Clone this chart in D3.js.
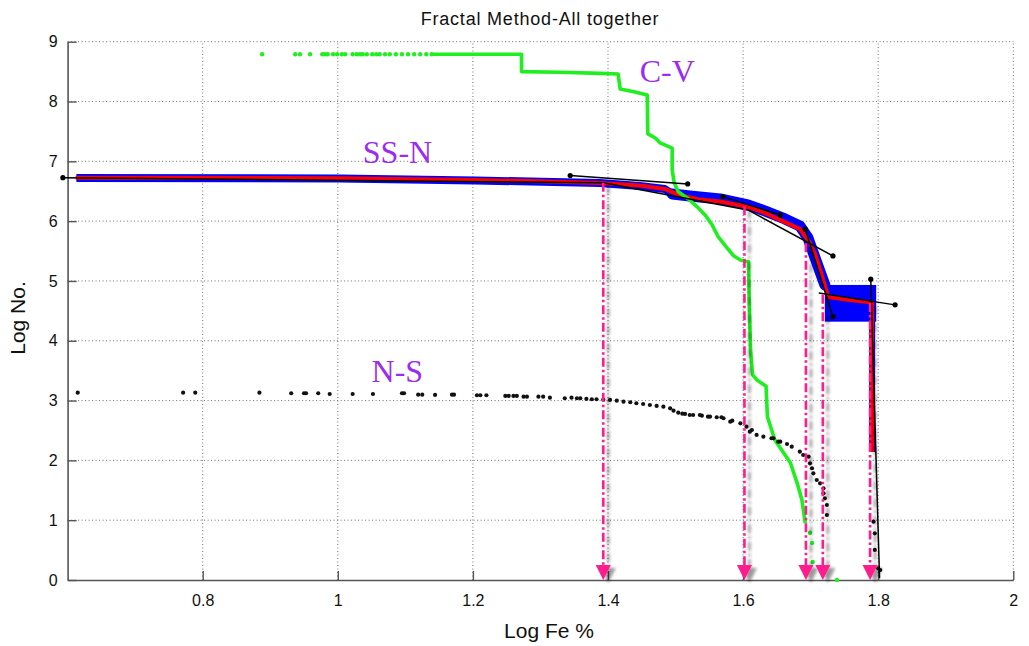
<!DOCTYPE html>
<html>
<head>
<meta charset="utf-8">
<script src="https://cdn.jsdelivr.net/npm/d3@7"></script>
<style>
  body { margin: 0; background: #fff; }
  svg { display: block; }
</style>
</head>
<body>
<svg id="chart" width="1029" height="646"></svg>
<script>
// ---- axis ticks ----
const xTicks = [0.8, 1, 1.2, 1.4, 1.6, 1.8, 2];
const yTicks = [0, 1, 2, 3, 4, 5, 6, 7, 8, 9];

// ---- C-V (concentration–volume) curve ----
const cvDotX = [0.888, 0.937, 0.944, 0.959, 0.977, 0.981, 0.985, 0.993, 0.999, 1.006, 1.011, 1.022, 1.028,
                1.033, 1.037, 1.043, 1.051, 1.057, 1.062, 1.070, 1.077, 1.086, 1.095, 1.104, 1.113, 1.122,
                1.131, 1.139];
const cvDotY = [8.79, 8.79, 8.79, 8.79, 8.79, 8.79, 8.79, 8.79, 8.79, 8.79, 8.79, 8.79, 8.79,
                8.79, 8.79, 8.79, 8.79, 8.79, 8.79, 8.79, 8.79, 8.79, 8.79, 8.79, 8.79, 8.79,
                8.79, 8.79];
const cvX = [1.141, 1.272, 1.272, 1.329, 1.388, 1.415, 1.418, 1.440, 1.458, 1.459, 1.470, 1.477, 1.495,
             1.495, 1.498, 1.504, 1.519, 1.532, 1.544, 1.554, 1.563, 1.575, 1.586, 1.596, 1.603, 1.608,
             1.609, 1.611, 1.614, 1.621, 1.634, 1.636, 1.647, 1.670, 1.680, 1.687, 1.692];
const cvY = [8.79, 8.79, 8.50, 8.49, 8.47, 8.46, 8.21, 8.16, 8.11, 7.46, 7.39, 7.31, 7.22,
             6.86, 6.64, 6.49, 6.37, 6.24, 6.10, 5.94, 5.74, 5.57, 5.42, 5.35, 5.33, 5.32,
             4.68, 3.85, 3.43, 3.34, 3.24, 2.73, 2.34, 1.96, 1.62, 1.34, 0.95];
const cvTailX = [1.699, 1.702, 1.703, 1.739];
const cvTailY = [0.79, 0.62, 0.30, 0.0];

// ---- N-S (number–size) points ----
const nsX = [0.615, 0.771, 0.789, 0.884, 0.931, 0.950, 0.953, 0.971, 0.988, 1.022, 1.052, 1.095, 1.098,
             1.119, 1.125, 1.144, 1.169, 1.172, 1.206, 1.211, 1.220, 1.248, 1.253, 1.260, 1.265, 1.275,
             1.280, 1.297, 1.304, 1.314, 1.336, 1.346, 1.354, 1.359, 1.368, 1.376, 1.383, 1.393, 1.403,
             1.413, 1.423, 1.433, 1.442, 1.452, 1.462, 1.472, 1.482, 1.492, 1.497, 1.504, 1.510, 1.514,
             1.521, 1.526, 1.536, 1.539, 1.548, 1.551, 1.561, 1.568, 1.571, 1.581, 1.584, 1.596, 1.605,
             1.610, 1.613, 1.620, 1.630, 1.642, 1.645, 1.652, 1.655, 1.665, 1.672, 1.684, 1.689, 1.697,
             1.699, 1.702, 1.704, 1.709, 1.714, 1.719, 1.719, 1.721, 1.724, 1.724, 1.793, 1.795, 1.795,
             1.800, 1.803];
const nsY = [3.132, 3.132, 3.132, 3.132, 3.122, 3.122, 3.122, 3.122, 3.110, 3.110, 3.110, 3.122, 3.122,
             3.099, 3.099, 3.094, 3.099, 3.099, 3.089, 3.089, 3.089, 3.077, 3.077, 3.077, 3.077, 3.065,
             3.065, 3.065, 3.065, 3.049, 3.039, 3.049, 3.039, 3.039, 3.027, 3.022, 3.022, 3.015, 3.010,
             2.998, 2.982, 2.972, 2.955, 2.943, 2.926, 2.910, 2.898, 2.871, 2.831, 2.798, 2.781, 2.776,
             2.759, 2.759, 2.759, 2.747, 2.731, 2.731, 2.721, 2.721, 2.704, 2.647, 2.664, 2.620, 2.564,
             2.480, 2.508, 2.425, 2.396, 2.370, 2.370, 2.313, 2.313, 2.274, 2.229, 2.145, 2.090, 2.062,
             1.951, 1.868, 1.784, 1.672, 1.617, 1.533, 1.450, 1.366, 1.254, 1.087, 0.975, 0.781, 0.502,
             0.196, 0.167];

// ---- SS-N (spectrum–area) data band and its smoothed trace ----
const bandX = [0.613, 1.003, 1.203, 1.388, 1.447, 1.484, 1.495, 1.521, 1.566, 1.607, 1.632, 1.662,
               1.684, 1.696, 1.705, 1.714, 1.721];
const bandY = [6.722, 6.714, 6.680, 6.639, 6.589, 6.538, 6.455, 6.421, 6.371, 6.271, 6.171, 6.037,
               5.920, 5.719, 5.435, 5.151, 4.933];
const bandBlockX = [1.721, 1.797];
const bandBlockY = [4.319, 4.933];
const bandTailX = [1.791, 1.791];
const bandTailY = [4.64, 2.14];

const ssnX = [0.612, 1.003, 1.203, 1.299, 1.388, 1.447, 1.484, 1.505, 1.535, 1.566, 1.607, 1.632, 1.662,
              1.684, 1.699, 1.707, 1.714, 1.723, 1.726, 1.758, 1.791, 1.791];
const ssnY = [6.727, 6.717, 6.689, 6.667, 6.639, 6.597, 6.538, 6.438, 6.363, 6.329, 6.237, 6.137, 5.983,
              5.870, 5.635, 5.435, 5.184, 4.849, 4.732, 4.682, 4.640, 2.140];

// ---- fitted straight segments (start / end) ----
const fitX1 = [0.593, 1.393, 1.344, 1.570, 1.607, 1.692, 1.712, 1.789];
const fitY1 = [6.727, 6.640, 6.761, 6.410, 6.187, 5.865, 4.800, 5.030];
const fitX2 = [1.393, 1.607, 1.518, 1.655, 1.733, 1.733, 1.825, 1.802];
const fitY2 = [6.640, 6.187, 6.622, 6.104, 5.418, 4.403, 4.600, 0.030];
const fitDotStart = [true, false, true, true, false, true, false, true];
const fitDotEnd = [false, false, true, true, true, true, true, false];

// ---- thresholds (break points) ----
const breakX = [1.393, 1.602, 1.693, 1.718, 1.788];
const breakTop = [6.64, 6.25, 5.63, 4.77, 4.63];

// ---- curve names ----
const curveNames = ["C-V", "SS-N", "N-S"];
const curveNameX = [1.447, 1.037, 1.050];
const curveNameY = [8.33, 6.97, 3.31];

// ================= drawing =================
const W = 1029, H = 646;
const svg = d3.select("#chart");
svg.append("rect").attr("width", W).attr("height", H).attr("fill", "#fff");

const x = d3.scaleLinear().domain([0.6, 2]).range([67.6, 1013.3]);
const y = d3.scaleLinear().domain([0, 9]).range([580, 41.7]);
const pts = (xs, ys) => xs.map((v, i) => [v, ys[i]]);
const line = d3.line().x(d => x(d[0])).y(d => y(d[1]));

const defs = svg.append("defs");
const f = defs.append("filter").attr("id", "dropShadow")
  .attr("filterUnits", "userSpaceOnUse").attr("x", 0).attr("y", 0).attr("width", W).attr("height", H);
f.append("feGaussianBlur").attr("in", "SourceAlpha").attr("stdDeviation", 1.6).attr("result", "b");
f.append("feOffset").attr("in", "b").attr("dx", 5).attr("dy", 3).attr("result", "o");
f.append("feComponentTransfer").attr("in", "o").attr("result", "s")
  .append("feFuncA").attr("type", "linear").attr("slope", 0.4);
const fm = f.append("feMerge");
fm.append("feMergeNode").attr("in", "s");
fm.append("feMergeNode").attr("in", "SourceGraphic");

// dotted grid
const grid = svg.append("g").attr("stroke", "#6f6f6f").attr("stroke-width", 1).attr("stroke-dasharray", "1,2.5");
grid.selectAll(".gv").data(xTicks).join("line")
  .attr("x1", d => x(d)).attr("x2", d => x(d)).attr("y1", y(0)).attr("y2", y(9));
grid.selectAll(".gh").data(yTicks.filter(d => d > 0)).join("line")
  .attr("x1", x(0.6)).attr("x2", x(2)).attr("y1", d => y(d)).attr("y2", d => y(d));

// axes with inward ticks
const fontSans = "'Liberation Sans', Arial, Helvetica, sans-serif";
const gx = svg.append("g").attr("transform", `translate(0,${y(0)})`)
  .call(d3.axisBottom(x).tickValues(xTicks).tickFormat(d => String(d))
    .tickSizeInner(-9).tickSizeOuter(0).tickPadding(15));
const gy = svg.append("g").attr("transform", `translate(${x(0.6)},0)`)
  .call(d3.axisLeft(y).tickValues(yTicks).tickFormat(d => String(d))
    .tickSizeInner(-9).tickSizeOuter(0).tickPadding(10));
[gx, gy].forEach(g => {
  g.select(".domain").attr("stroke", "#555").attr("stroke-width", 1.6);
  g.selectAll(".tick line").attr("stroke", "#555").attr("stroke-width", 1.4);
  g.selectAll(".tick text").attr("fill", "#111").style("font-family", fontSans).style("font-size", "16px");
});

// SS-N data band: thin on the plateau, wider where it falls off
const band = svg.append("g");
band.append("path").datum(pts(bandX, bandY)).attr("d", line)
  .attr("fill", "none").attr("stroke", "#0000ff").attr("stroke-width", 8)
  .attr("stroke-linejoin", "round").attr("stroke-linecap", "butt");
band.append("path").datum(pts(bandX, bandY).filter(d => d[0] >= 1.495)).attr("d", line)
  .attr("fill", "none").attr("stroke", "#0000ff").attr("stroke-width", 11)
  .attr("stroke-linejoin", "round").attr("stroke-linecap", "round");
band.append("rect")
  .attr("x", x(bandBlockX[0])).attr("width", x(bandBlockX[1]) - x(bandBlockX[0]))
  .attr("y", y(bandBlockY[1])).attr("height", y(bandBlockY[0]) - y(bandBlockY[1]))
  .attr("fill", "#0000ff");
band.append("path").datum(pts(bandTailX, bandTailY)).attr("d", line)
  .attr("stroke", "#0000ff").attr("stroke-width", 6).attr("fill", "none");

// SS-N trace
svg.append("path").datum(pts(ssnX, ssnY)).attr("d", line)
  .attr("fill", "none").attr("stroke", "#ff0000").attr("stroke-width", 4).attr("stroke-linejoin", "round");

// C-V curve
const green = "#1fee1f";
svg.append("path").datum(pts(cvX, cvY)).attr("d", line)
  .attr("fill", "none").attr("stroke", green).attr("stroke-width", 3.6).attr("stroke-linejoin", "round");
svg.append("g").selectAll("circle").data(pts(cvDotX, cvDotY).concat(pts(cvTailX, cvTailY))).join("circle")
  .attr("cx", d => x(d[0])).attr("cy", d => y(d[1])).attr("r", 2.2).attr("fill", green);

// N-S points
svg.append("g").selectAll("circle").data(pts(nsX, nsY)).join("circle")
  .attr("cx", d => x(d[0])).attr("cy", d => y(d[1])).attr("r", 2.1).attr("fill", "#111");

// fitted segments
const fits = fitX1.map((v, i) => ({ x1: v, y1: fitY1[i], x2: fitX2[i], y2: fitY2[i], s: fitDotStart[i], e: fitDotEnd[i] }));
const gf = svg.append("g");
gf.selectAll("line").data(fits).join("line")
  .attr("x1", d => x(d.x1)).attr("y1", d => y(d.y1)).attr("x2", d => x(d.x2)).attr("y2", d => y(d.y2))
  .attr("stroke", "#000").attr("stroke-width", 1.5);
const ends = [];
fits.forEach(d => { if (d.s) ends.push([d.x1, d.y1]); if (d.e) ends.push([d.x2, d.y2]); });
gf.selectAll("circle").data(ends).join("circle")
  .attr("cx", d => x(d[0])).attr("cy", d => y(d[1])).attr("r", 2.6).attr("fill", "#000");

// threshold arrows
const pink = "#ff1a8c";
const arrows = svg.append("g").attr("filter", "url(#dropShadow)");
const ga = arrows.selectAll("g").data(breakX.map((v, i) => [v, breakTop[i]])).join("g");
ga.append("line")
  .attr("x1", d => x(d[0])).attr("x2", d => x(d[0]))
  .attr("y1", d => y(d[1])).attr("y2", y(0) - 12)
  .attr("stroke", pink).attr("stroke-width", 2.6).attr("stroke-dasharray", "9,3,2.5,3");
ga.append("path")
  .attr("d", d => { const cx = x(d[0]), by = y(0); return `M${cx - 7.5},${by - 15}L${cx + 7.5},${by - 15}L${cx},${by}Z`; })
  .attr("fill", pink);

// curve names
svg.append("g").selectAll("text").data(curveNames).join("text")
  .attr("x", (d, i) => x(curveNameX[i])).attr("y", (d, i) => y(curveNameY[i]))
  .text(d => d)
  .attr("fill", "#9a2cf0")
  .style("font-family", "'Liberation Serif', 'Times New Roman', serif").style("font-size", "32px");

// title and axis titles
svg.append("text").attr("x", 540).attr("y", 25).attr("text-anchor", "middle")
  .style("font-family", fontSans).style("font-size", "18px").style("letter-spacing", "0.8px")
  .attr("fill", "#111").text("Fractal Method-All together");
svg.append("text").attr("x", 549).attr("y", 638).attr("text-anchor", "middle")
  .style("font-family", fontSans).style("font-size", "21px").attr("fill", "#111").text("Log Fe %");
svg.append("text").attr("transform", "translate(25,318) rotate(-90)").attr("text-anchor", "middle")
  .style("font-family", fontSans).style("font-size", "21px").attr("fill", "#111").text("Log No.");
</script>
</body>
</html>
